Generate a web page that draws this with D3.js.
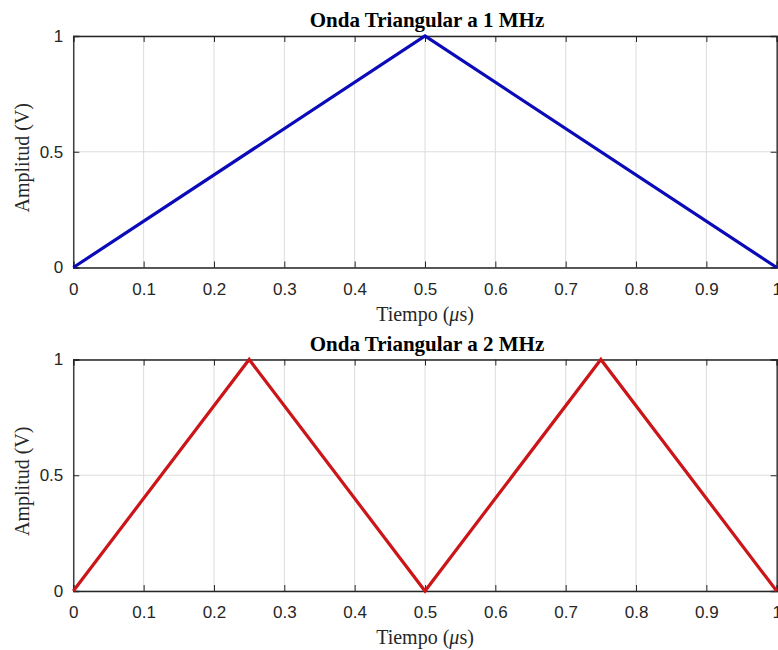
<!DOCTYPE html>
<html><head><meta charset="utf-8">
<script src="https://cdn.jsdelivr.net/npm/d3@7"></script>
<style>body{margin:0;background:#fff}svg{display:block}</style>
</head><body>
<svg id="c" width="778" height="650"></svg>
<script>
const time1 = [0, 0.5, 1];
const amp1 = [0, 1, 0];
const time2 = [0, 0.25, 0.5, 0.75, 1];
const amp2 = [0, 1, 0, 1, 0];
const xTicks = [0, 0.1, 0.2, 0.3, 0.4, 0.5, 0.6, 0.7, 0.8, 0.9, 1];
const yTicks = [0, 0.5, 1];
const titles = ["Onda Triangular a 1 MHz", "Onda Triangular a 2 MHz"];
const colors = ["#0a0ab8", "#cc1518"];

const svg = d3.select("#c");
const panels = [
  {t: time1, a: amp1, top: 36, bottom: 267.5},
  {t: time2, a: amp2, top: 359.5, bottom: 591}
];
const left = 73.3, right = 776.7;

panels.forEach((p, i) => {
  const x = d3.scaleLinear().domain([0, 1]).range([left, right]);
  const y = d3.scaleLinear().domain([0, 1]).range([p.bottom, p.top]);
  const g = svg.append("g");
  g.selectAll(".gx").data(xTicks).join("line")
    .attr("x1", d => x(d)).attr("x2", d => x(d))
    .attr("y1", p.top).attr("y2", p.bottom)
    .attr("stroke", "#dcdcdc").attr("stroke-width", 1);
  g.selectAll(".gy").data(yTicks).join("line")
    .attr("x1", left).attr("x2", right)
    .attr("y1", d => y(d)).attr("y2", d => y(d))
    .attr("stroke", "#dcdcdc").attr("stroke-width", 1);
  const xa = g.append("g").attr("transform", `translate(0,${p.bottom})`)
    .call(d3.axisBottom(x).tickValues(xTicks).tickSize(-6).tickPadding(15)
      .tickFormat(d => d3.format("")(d)));
  const xt = g.append("g").attr("transform", `translate(0,${p.top})`)
    .call(d3.axisTop(x).tickValues(xTicks).tickSize(-6).tickFormat(""));
  const ya = g.append("g").attr("transform", `translate(${left},0)`)
    .call(d3.axisLeft(y).tickValues(yTicks).tickSize(-6).tickPadding(10)
      .tickFormat(d => d3.format("")(d)));
  const yr = g.append("g").attr("transform", `translate(${right},0)`)
    .call(d3.axisRight(y).tickValues(yTicks).tickSize(-6).tickFormat(""));
  [xa, xt, ya, yr].forEach(a => {
    a.select(".domain").attr("stroke", "#262626").attr("stroke-width", 1.3);
    a.selectAll(".tick line").attr("stroke", "#262626").attr("stroke-width", 1);
    a.selectAll("text").attr("fill", "#262626")
      .style("font-family", "'Liberation Sans', Arial, sans-serif").style("font-size", "17px");
  });
  const line = d3.line().x((d, k) => x(p.t[k])).y(d => y(d));
  g.append("path").datum(p.a).attr("d", line)
    .attr("fill", "none").attr("stroke", colors[i]).attr("stroke-width", 3.2)
    .attr("stroke-linejoin", "miter");
  g.append("text").attr("x", (left + right) / 2 + 2).attr("y", p.top - 9)
    .attr("text-anchor", "middle")
    .style("font-family", "'Liberation Serif', 'Times New Roman', serif")
    .style("font-weight", "bold").style("font-size", "21px").attr("fill", "#000")
    .text(titles[i]);
  const xl = g.append("text").attr("x", (left + right) / 2).attr("y", p.bottom + 53)
    .attr("text-anchor", "middle")
    .style("font-family", "'Liberation Serif', 'Times New Roman', serif")
    .style("font-size", "20px").attr("fill", "#262626");
  xl.append("tspan").text("Tiempo (");
  xl.append("tspan").style("font-style", "italic").text("μ");
  xl.append("tspan").text("s)");
  g.append("text")
    .attr("transform", `translate(29,${(p.top + p.bottom) / 2 + 6}) rotate(-90)`)
    .attr("text-anchor", "middle")
    .style("font-family", "'Liberation Serif', 'Times New Roman', serif")
    .style("font-size", "20px").attr("fill", "#262626")
    .text("Amplitud (V)");
});
</script>
</body></html>
